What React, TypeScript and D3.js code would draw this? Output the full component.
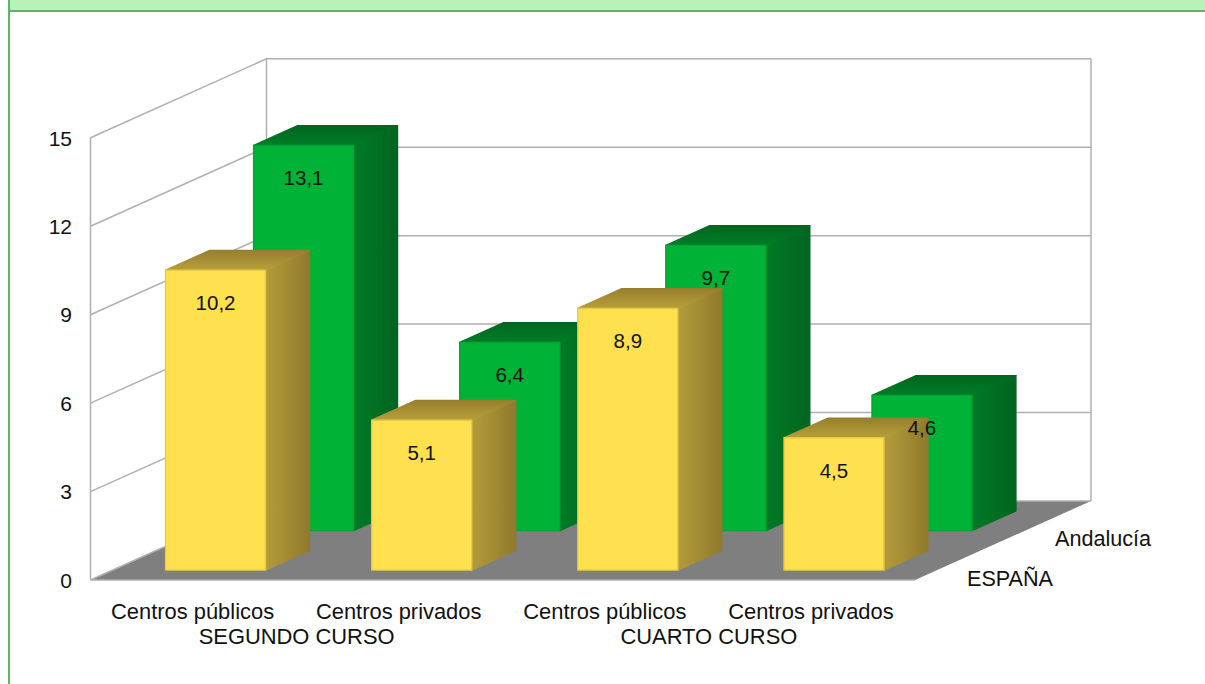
import React from "react";
import * as d3 from "d3";

const categories = ["Centros públicos", "Centros privados", "Centros públicos", "Centros privados"];
const groups = ["SEGUNDO CURSO", "CUARTO CURSO"];
const seriesNames = ["ESPAÑA", "Andalucía"];
const espana = [10.2, 5.1, 8.9, 4.5];
const andalucia = [13.1, 6.4, 9.7, 4.6];
const yTicks = [0, 3, 6, 9, 12, 15];

const WIDTH = 1205;
const HEIGHT = 684;
const FONT = "'Liberation Sans', Arial, sans-serif";
const TEXT = "#111";
const GRID = "#b0b0b0";

// Oblique projection: z runs from 0 (front edge of the floor) to 1 (back wall)
const DEPTH_X = 176;
const DEPTH_Y = -79;
const x = d3.scaleBand<number>().domain(d3.range(categories.length)).range([90.5, 915]).paddingInner(0.515).paddingOuter(0.2575);
const y = d3.scaleLinear().domain([0, 15]).range([580, 137.8]);
// Columns sit on a marginally tighter scale than the wall grid
const barY = d3.scaleLinear().domain([0, 15]).range([580, 139]);
const z = d3.scaleBand<string>().domain(seriesNames).range([0, 1]).paddingInner(0.5).paddingOuter(0.25);

const wallPt = (px: number, v: number, d: number): [number, number] => [px + DEPTH_X * d, y(v) + DEPTH_Y * d];
const pt = (px: number, v: number, d: number): [number, number] => [px + DEPTH_X * d, barY(v) + DEPTH_Y * d];
const poly = (pts: [number, number][]) => pts.map((p) => p.map((n) => n.toFixed(1)).join(",")).join(" ");

type Palette = { front: string; edge: string; top: string; side: string };
const yellow: Palette = { front: "#ffe14f", edge: "#e6c945", top: "url(#yellowTop)", side: "url(#yellowSide)" };
const green: Palette = { front: "#00b236", edge: "#04a533", top: "url(#greenTop)", side: "url(#greenSide)" };

function Bar({ i, value, series, colors }: { i: number; value: number; series: string; colors: Palette }) {
  const x0 = x(i)!;
  const x1 = x0 + x.bandwidth();
  const d0 = z(series)!;
  const d1 = d0 + z.bandwidth();
  const common = { strokeLinejoin: "round" as const, strokeWidth: 1.4 };
  return (
    <g>
      <polygon points={poly([pt(x1, 0, d0), pt(x1, value, d0), pt(x1, value, d1), pt(x1, 0, d1)])} fill={colors.side} stroke={colors.side} {...common} />
      <polygon points={poly([pt(x0, value, d0), pt(x0, value, d1), pt(x1, value, d1), pt(x1, value, d0)])} fill={colors.top} stroke={colors.top} {...common} />
      <polygon points={poly([pt(x0, 0, d0), pt(x0, value, d0), pt(x1, value, d0), pt(x1, 0, d0)])} fill={colors.front} stroke={colors.edge} {...common} />
    </g>
  );
}

function ValueLabel({ i, value, series }: { i: number; value: number; series: string }) {
  const [px, py] = pt(x(i)! + x.bandwidth() / 2, value, z(series)!);
  return (
    <text x={px} y={py + 32.5} textAnchor="middle" dominantBaseline="central" fontSize={20.5} fill={TEXT}>
      {d3.format(".1f")(value).replace(".", ",")}
    </text>
  );
}

export default function App() {
  const floor = poly([wallPt(90.5, 0, 0), wallPt(915, 0, 0), wallPt(915, 0, 1), wallPt(90.5, 0, 1)]);
  const groupCenter = (a: number, b: number) => (x(a)! + x(b)! + x.bandwidth()) / 2;
  return (
    <svg width={WIDTH} height={HEIGHT} viewBox={`0 0 ${WIDTH} ${HEIGHT}`} style={{ position: "absolute", left: 0, top: 0, display: "block", background: "#fff" }} fontFamily={FONT}>
      <defs>
        <linearGradient id="yellowSide" x1="0" x2="1" y1="0" y2="0">
          <stop offset="0" stopColor="#b49c3a" />
          <stop offset="1" stopColor="#8f7a2d" />
        </linearGradient>
        <linearGradient id="yellowTop" x1="0" x2="0" y1="0" y2="1">
          <stop offset="0" stopColor="#977f2e" />
          <stop offset="1" stopColor="#b89f3b" />
        </linearGradient>
        <linearGradient id="greenSide" x1="0" x2="1" y1="0" y2="0">
          <stop offset="0" stopColor="#007a26" />
          <stop offset="1" stopColor="#00651f" />
        </linearGradient>
        <linearGradient id="greenTop" x1="0" x2="0" y1="0" y2="1">
          <stop offset="0" stopColor="#00661f" />
          <stop offset="1" stopColor="#007d27" />
        </linearGradient>
      </defs>

      {/* Header band and frame */}
      <rect x={10} y={0} width={WIDTH - 10} height={10.5} fill="#b7f2b9" />
      <line x1={8} x2={WIDTH} y1={11} y2={11} stroke="#5fb36f" strokeWidth={2} />
      <line x1={9} x2={9} y1={0} y2={HEIGHT} stroke="#5fb36f" strokeWidth={2} />

      {/* Floor and walls */}
      <polygon points={floor} fill="#7f7f7f" />
      <g stroke={GRID} strokeWidth={1.5} fill="none">
        <line x1={90.5} x2={90.5} y1={y(15)} y2={y(0)} />
        <line x1={wallPt(90.5, 0, 1)[0]} x2={wallPt(90.5, 0, 1)[0]} y1={wallPt(90.5, 15, 1)[1]} y2={wallPt(90.5, 0, 1)[1]} />
        <line x1={wallPt(915, 0, 1)[0]} x2={wallPt(915, 0, 1)[0]} y1={wallPt(915, 15, 1)[1]} y2={wallPt(915, 0, 1)[1]} />
        <line x1={90.5} x2={915} y1={y(0)} y2={y(0)} />
        {yTicks.map((t) => {
          const a = wallPt(90.5, t, 0);
          const b = wallPt(90.5, t, 1);
          const c = wallPt(915, t, 1);
          return <polyline key={t} points={poly([a, b, c])} />;
        })}
      </g>

      {/* Rear series first, so the front row paints over it */}
      {andalucia.map((v, i) => <Bar key={i} i={i} value={v} series="Andalucía" colors={green} />)}
      {espana.map((v, i) => <Bar key={i} i={i} value={v} series="ESPAÑA" colors={yellow} />)}

      {andalucia.map((v, i) => <ValueLabel key={i} i={i} value={v} series="Andalucía" />)}
      {espana.map((v, i) => <ValueLabel key={i} i={i} value={v} series="ESPAÑA" />)}

      {/* Axis text */}
      <g fontSize={21.9} fill={TEXT}>
        {yTicks.map((t) => (
          <text key={t} x={72} y={y(t) + 0.3} textAnchor="end" dominantBaseline="central" fontSize={21}>{t}</text>
        ))}
        {categories.map((c, i) => (
          <text key={i} x={x(i)! + x.bandwidth() / 2 - 1} y={611.5} textAnchor="middle" dominantBaseline="central">{c}</text>
        ))}
        <text x={groupCenter(0, 1)} y={636.5} textAnchor="middle" dominantBaseline="central">{groups[0]}</text>
        <text x={groupCenter(2, 3)} y={636.5} textAnchor="middle" dominantBaseline="central">{groups[1]}</text>
        <text x={967} y={578.5} dominantBaseline="central" fontSize={21.6}>{seriesNames[0]}</text>
        <text x={1055} y={538.5} dominantBaseline="central" fontSize={21.6}>{seriesNames[1]}</text>
      </g>
    </svg>
  );
}
